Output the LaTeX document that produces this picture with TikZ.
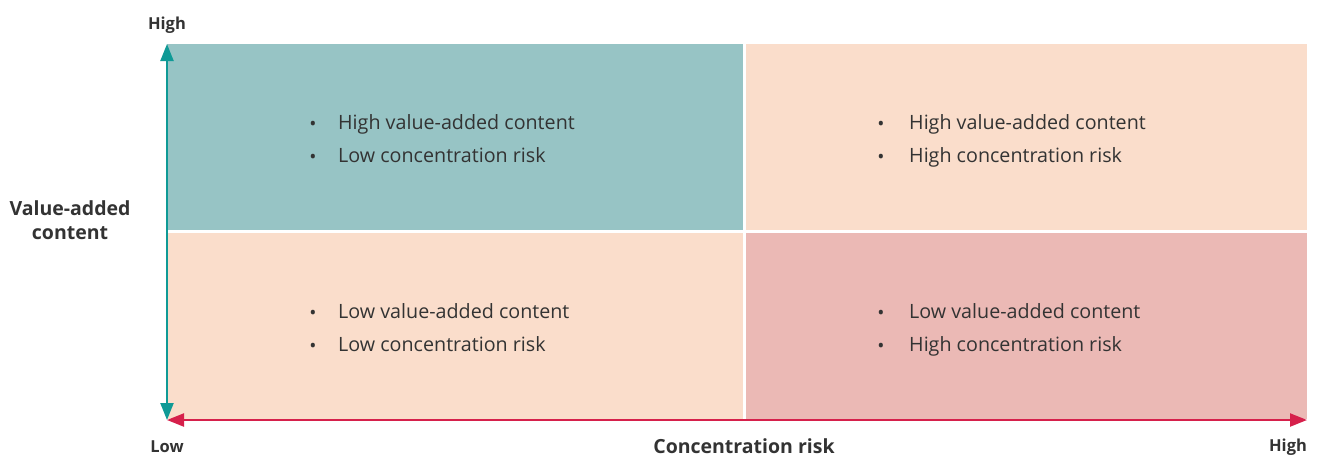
\documentclass[tikz,border=0pt]{standalone}
\usepackage{fontspec}
\setmainfont{Open Sans}
\usetikzlibrary{arrows.meta}
\definecolor{tealfill}{HTML}{97C4C5}
\definecolor{peach}{HTML}{FADDCB}
\definecolor{pinkfill}{HTML}{EBB9B5}
\definecolor{tealline}{HTML}{0F9A96}
\definecolor{redline}{HTML}{D6204B}
\definecolor{txt}{HTML}{333333}
\tikzset{
  btxt/.style={anchor=base west, text=txt, font=\fontsize{19.7}{23}\selectfont, inner sep=0pt},
  bdot/.style={anchor=base, text=txt, font=\fontsize{19}{22}\selectfont, inner sep=0pt},
  axlbl/.style={text=txt, font=\bfseries\fontsize{16.5}{18}\selectfont, inner sep=0pt},
  axtitle/.style={text=txt, font=\bfseries\fontsize{19.5}{24}\selectfont, inner sep=0pt, align=center},
}
\begin{document}
\begin{tikzpicture}[x=1pt,y=-1pt]
\useasboundingbox (0,0) rectangle (1317,456);
% quadrants
\fill[tealfill] (167,44) rectangle (743,230);
\fill[peach] (746,44) rectangle (1307,230);
\fill[peach] (167,233) rectangle (743,419);
\fill[pinkfill] (746,233) rectangle (1307,419);
% axes
\coordinate (origin) at (167,420);
\coordinate (ytop) at (167,44);
\coordinate (xend) at (1307,420);
\draw[tealline, line width=2.2pt, {Triangle[length=17pt,width=13pt]}-{Triangle[length=17pt,width=13pt]}] (origin) -- (ytop);
\draw[redline, line width=2.2pt, {Triangle[length=17pt,width=13pt]}-{Triangle[length=17pt,width=13pt]}] (origin) -- (xend);
% axis labels
\node[axlbl] (yhigh) at (167,25) {High};
\node[axlbl] (xlow) at (167,447) {Low};
\node[axlbl] (xhigh) at (1288,447) {High};
\node[axtitle] (xtitle) at (744,446) {Concentration risk};
\node[axtitle] (ytitle) at (70,220) {Value-added\\content};
% quadrant texts
\node[bdot] (b1) at (313,130) {•};
\node[btxt] (t1) at (338,129.5) {High value-added content};
\node[bdot] (b2) at (313,163) {•};
\node[btxt] (t2) at (338,162.5) {Low concentration risk};
\node[bdot] (b3) at (881,130) {•};
\node[btxt] (t3) at (909,129.5) {High value-added content};
\node[bdot] (b4) at (881,163) {•};
\node[btxt] (t4) at (909,162.5) {High concentration risk};
\node[bdot] (b5) at (313,319) {•};
\node[btxt] (t5) at (338,318.5) {Low value-added content};
\node[bdot] (b6) at (313,352) {•};
\node[btxt] (t6) at (338,351.5) {Low concentration risk};
\node[bdot] (b7) at (881,319) {•};
\node[btxt] (t7) at (909,318.5) {Low value-added content};
\node[bdot] (b8) at (881,352) {•};
\node[btxt] (t8) at (909,351.5) {High concentration risk};
\end{tikzpicture}
\end{document}
